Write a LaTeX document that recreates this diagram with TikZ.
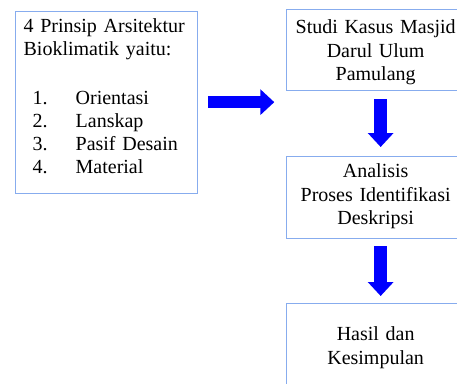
\documentclass[tikz,border=0pt]{standalone}
\usepackage{fontspec}
\setmainfont{Liberation Serif}
\usetikzlibrary{arrows.meta}
\definecolor{boxblue}{RGB}{135,172,238}
\definecolor{arrblue}{RGB}{0,0,255}
\tikzset{
  leftbox/.style={draw=boxblue, line width=1.3pt, inner xsep=8pt, inner ysep=0pt,
    text width=166pt, align=left, anchor=north west,
    font=\fontsize{20}{23}\selectfont},
  rightbox/.style={draw=boxblue, line width=1.3pt, inner xsep=4pt, inner ysep=0pt,
    text width=170pt, align=center, anchor=north west,
    font=\fontsize{20}{23.5}\selectfont},
  bigarrow/.style={draw=arrblue, line width=12.5pt,
    -{Triangle[length=14pt,width=25pt]}, arrblue}
}
\newcommand{\listitem}[2]{\hspace*{9pt}\makebox[43pt][l]{#1}#2}
\begin{document}
\begin{tikzpicture}[x=1pt,y=1pt]
\clip (0,0) rectangle (457,-383);
\fill[white] (0,0) rectangle (457,-383);
\node[leftbox, text height=21pt, text depth=161pt] (L) at (15,-11)
  {4 Prinsip Arsitektur\\
   Bioklimatik yaitu:\\[26pt]
   \listitem{1.}{Orientasi}\\
   \listitem{2.}{Lanskap}\\
   \listitem{3.}{Pasif Desain}\\
   \listitem{4.}{Material}};
\node[rightbox, text height=24pt, text depth=57pt] (S1) at (286,-9)
  {Studi Kasus Masjid\\ Darul Ulum\\ Pamulang};
\node[rightbox, text height=21pt, text depth=61pt] (S2) at (286,-156)
  {Analisis\\ Proses Identifikasi\\ Deskripsi};
\node[rightbox, text height=37pt, text depth=60pt] (S3) at (286,-303)
  {Hasil dan\\ Kesimpulan};
\coordinate (H) at ([xshift=76pt,yshift=0.5pt]L.east);
\draw[bigarrow] ([xshift=10pt,yshift=0.5pt]L.east) -- (H);
\draw[bigarrow] ([xshift=5pt,yshift=-8pt]S1.south) -- ([xshift=5pt,yshift=9pt]S2.north);
\draw[bigarrow] ([xshift=5pt,yshift=-7pt]S2.south) -- ([xshift=5pt,yshift=7pt]S3.north);
\end{tikzpicture}
\end{document}
